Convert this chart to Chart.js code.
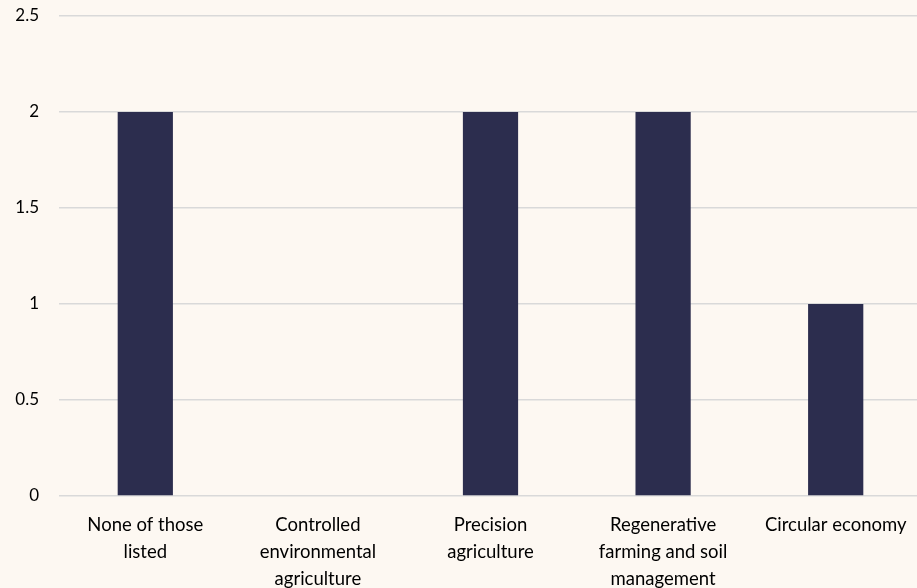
<!DOCTYPE html>
<html>
<head>
<meta charset="utf-8">
<script src="https://cdn.jsdelivr.net/npm/chart.js@4"></script>
<style>
  html, body { margin: 0; padding: 0; background: #fdf8f2; overflow: hidden; }
  #wrap { width: 922px; height: 588px; }
</style>
</head>
<body>
<div id="wrap"><canvas id="grafico" width="922" height="588"></canvas></div>
<script>
const categorias = [
  ['None of those', 'listed'],
  ['Controlled', 'environmental', 'agriculture'],
  ['Precision', 'agriculture'],
  ['Regenerative', 'farming and soil', 'management'],
  ['Circular economy']
];
const valores = [2, 0, 2, 2, 1];
const marcasY = [0, 0.5, 1, 1.5, 2, 2.5];

const familia = 'Lato, "Open Sans", sans-serif';

new Chart(document.getElementById('grafico').getContext('2d'), {
  type: 'bar',
  data: {
    labels: categorias,
    datasets: [{
      data: valores,
      backgroundColor: '#2c2d4e',
      barPercentage: 0.64,
      categoryPercentage: 0.5
    }]
  },
  options: {
    responsive: false,
    animation: false,
    layout: { padding: { top: 16, right: 0, left: 0, bottom: 0 } },
    plugins: { legend: { display: false }, tooltip: { enabled: false } },
    scales: {
      x: {
        grid: { display: false },
        border: { display: false },
        ticks: { color: '#000', font: { family: familia, size: 18.5, lineHeight: 1.45 }, maxRotation: 0, autoSkip: false, padding: 8 },
        afterFit: s => { s.height = 92; s.paddingLeft = 0; s.paddingRight = 0; }
      },
      y: {
        min: 0,
        max: 2.5,
        afterBuildTicks: s => { s.ticks = marcasY.map(v => ({ value: v })); },
        grid: { color: '#d9d9d9', lineWidth: 1.5, drawTicks: false },
        border: { display: false },
        ticks: { color: '#000', font: { family: familia, size: 17 }, padding: 20, callback: v => String(v) },
        afterFit: s => { s.width = 59; s.paddingTop = 0; s.paddingBottom = 0; }
      }
    }
  }
});
</script>
</body>
</html>
